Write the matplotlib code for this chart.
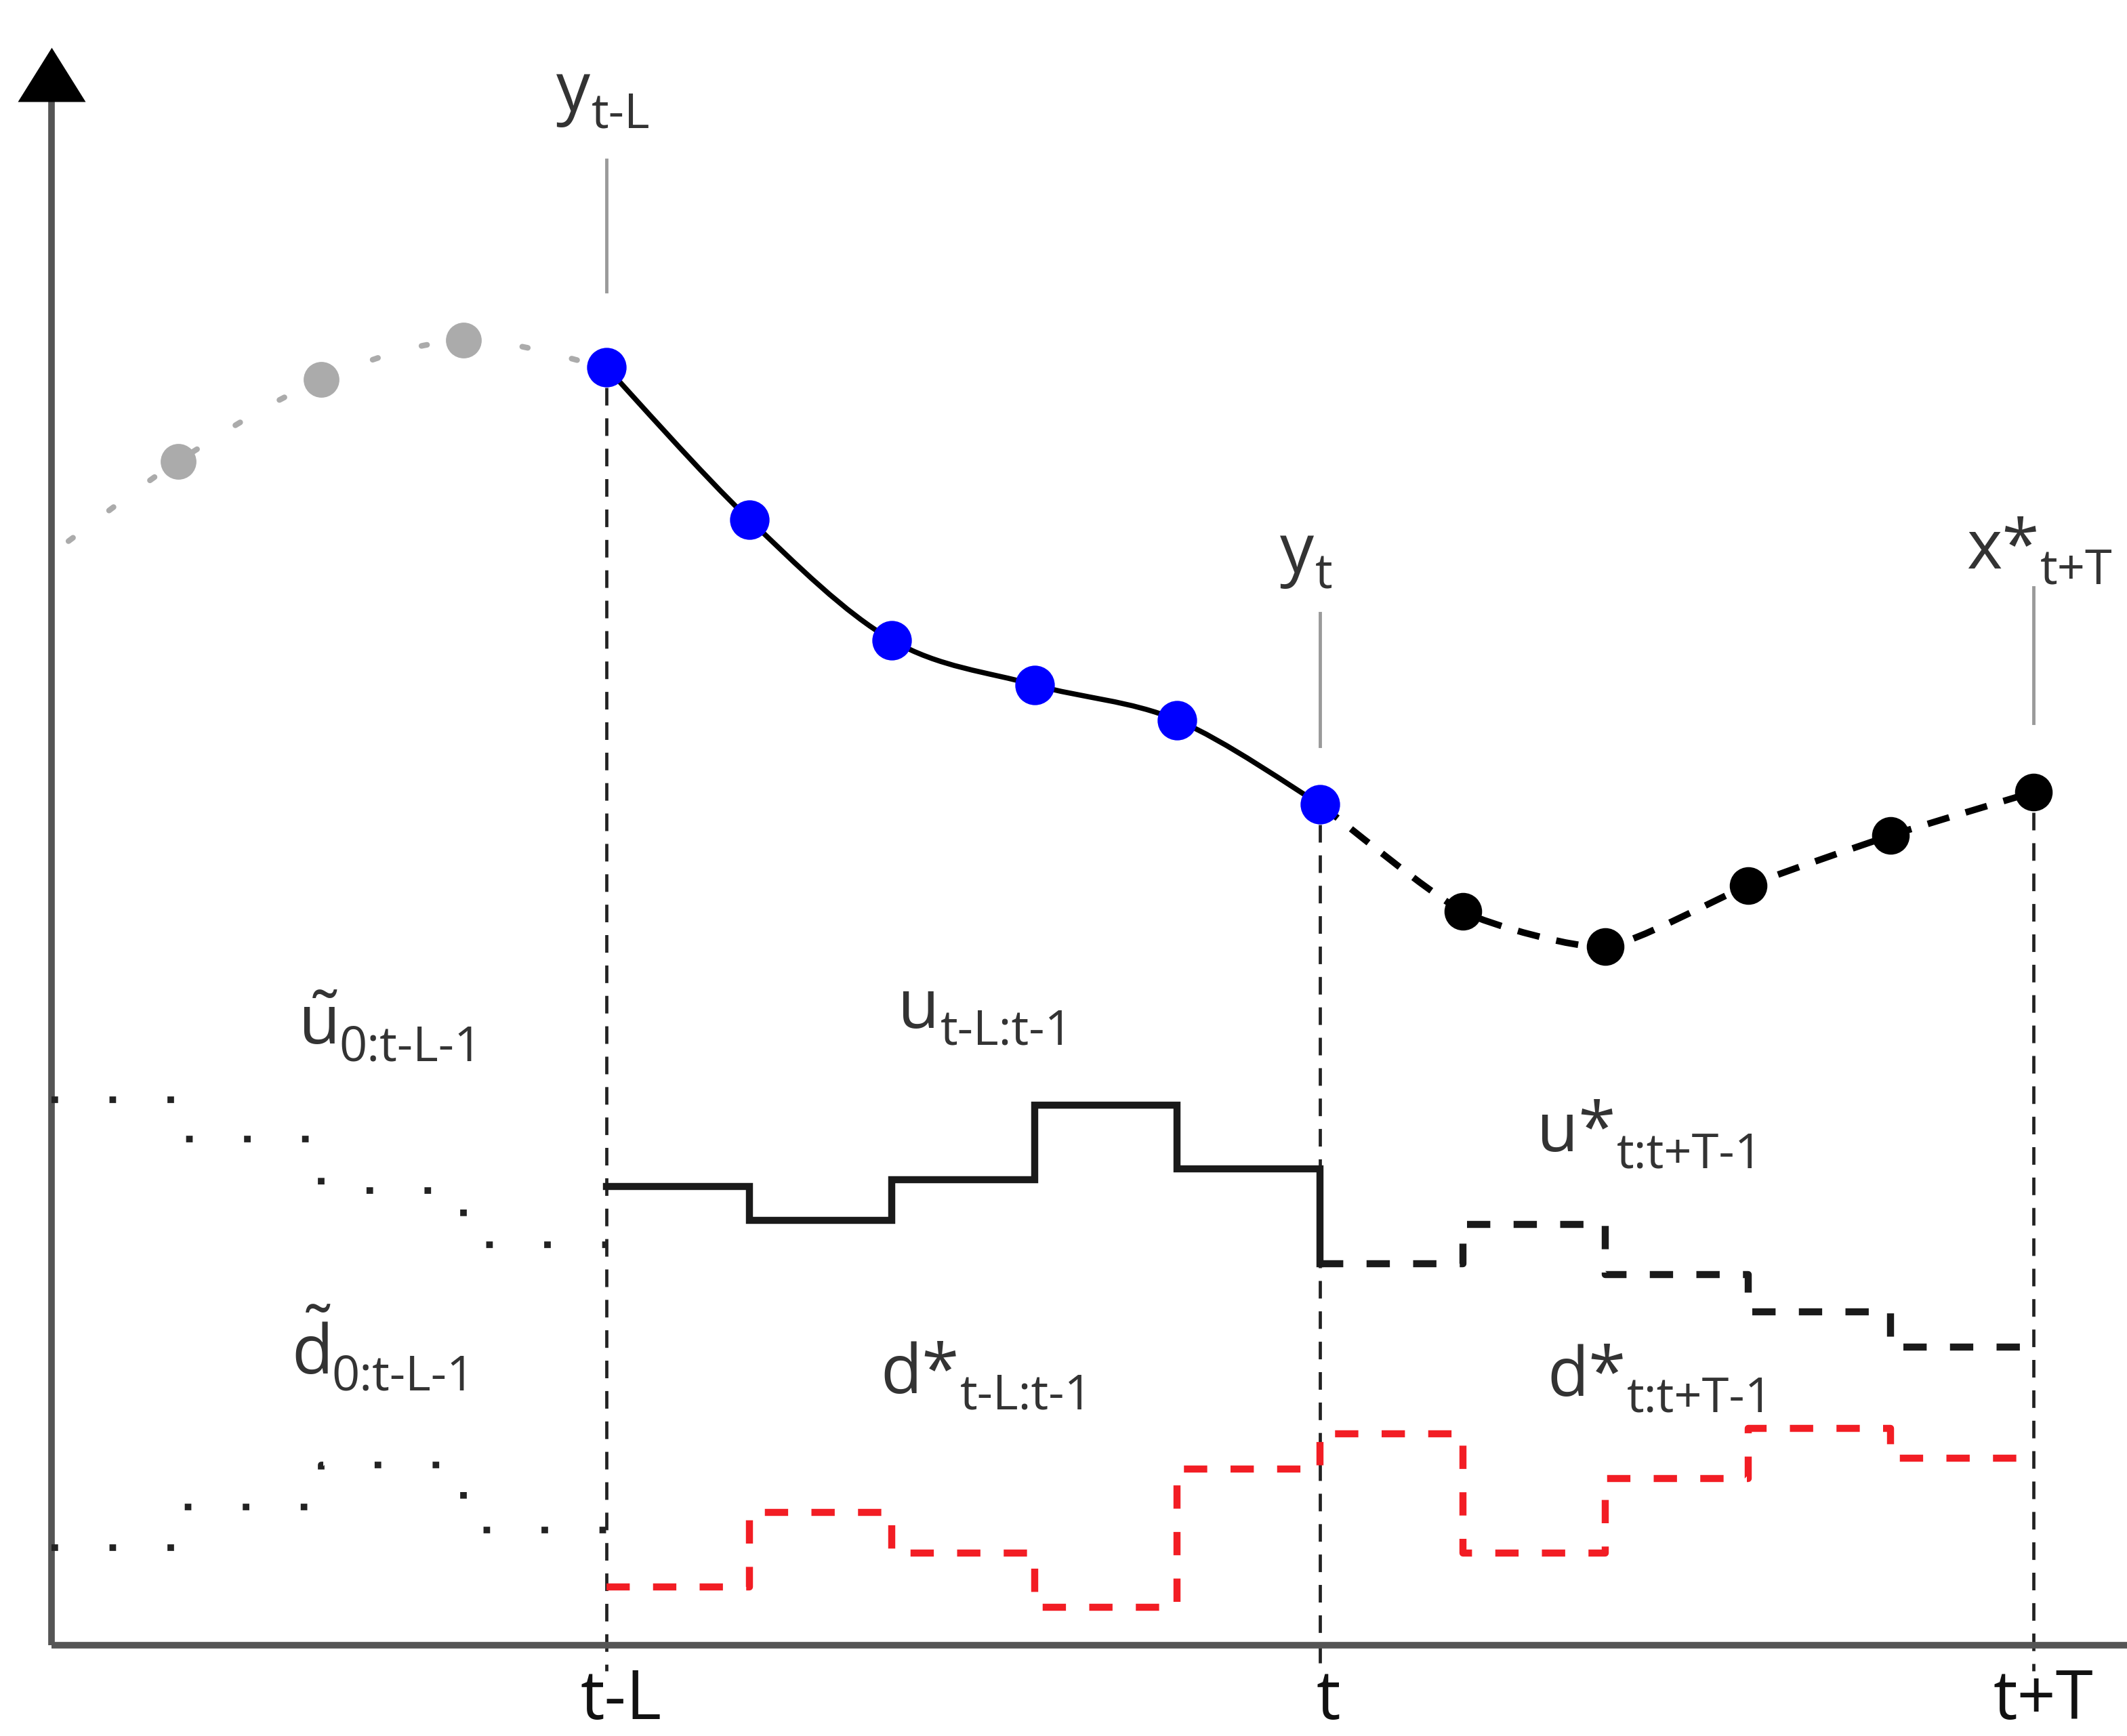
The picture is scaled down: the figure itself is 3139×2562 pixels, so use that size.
import numpy as np
import matplotlib
matplotlib.use("Agg")
import matplotlib.pyplot as plt
from matplotlib.path import Path
from matplotlib.patches import PathPatch

plt.rcParams['font.family'] = ['Open Sans', 'DejaVu Sans']
plt.rcParams['mathtext.fontset'] = 'custom'
plt.rcParams['mathtext.rm'] = 'Open Sans'
plt.rcParams['mathtext.it'] = 'Open Sans'
plt.rcParams['mathtext.bf'] = 'Open Sans:bold'

# ---------------- data (time index k: t-L = 0, t = 5, t+T = 10) ----------------
hist_curve_k = [-3.77, -3, -2, -1, 0]
hist_curve_y = [8.14, 8.73, 9.33, 9.62, 9.42]
hist_pts_k = [-3, -2, -1]
hist_pts_y = [8.73, 9.33, 9.62]

meas_k = [0, 1, 2, 3, 4, 5]
meas_y = [9.42, 8.30, 7.41, 7.08, 6.82, 6.20]

pred_k = [6, 7, 8, 9, 10]
pred_y = [5.41, 5.15, 5.60, 5.97, 6.29]

u_hist_edges = [-3.89, -3, -2, -1, 0]
u_hist = [4.02, 3.73, 3.35, 2.95]
d_hist_edges = [-3.89, -3, -2, -1, 0]
d_hist = [0.72, 1.02, 1.33, 0.85]

u_past = [3.38, 3.13, 3.43, 3.98, 3.51]        # k 0..5, solid
u_future = [2.81, 3.10, 2.73, 2.46, 2.20]      # k 5..10, dashed
d_all = [0.43, 0.98, 0.68, 0.28, 1.30, 1.56, 0.68, 1.23, 1.60, 1.38]  # k 0..10

k_marks = [0, 5, 10]
k_labels = ['t-L', 't', 't+T']

# ---------------- figure ----------------
W, H, DPI = 3139, 2562, 100
fig = plt.figure(figsize=(W / DPI, H / DPI), dpi=DPI)
ax = fig.add_axes([0, 0, 1, 1])
ax.set_xlim(-4.25, 10.655)
ax.set_ylim(-0.67, 12.13)
ax.axis('off')

TXT = '#333333'
AXC = '#555555'


def smooth_patch(xs, ys, tension=1 / 6, **kw):
    pts = np.column_stack([xs, ys]).astype(float)
    verts = [pts[0]]
    codes = [Path.MOVETO]
    n = len(pts)
    for i in range(n - 1):
        p0 = pts[i - 1] if i > 0 else pts[i]
        p1 = pts[i]
        p2 = pts[i + 1]
        p3 = pts[i + 2] if i + 2 < n else pts[i + 1]
        c1 = p1 + (p2 - p0) * tension
        c2 = p2 - (p3 - p1) * tension
        verts += [c1, c2, p2]
        codes += [Path.CURVE4] * 3
    patch = PathPatch(Path(verts, codes), fill=False, **kw)
    ax.add_patch(patch)
    return patch


# axes
y_axis_k = u_hist_edges[0]
ax.plot([y_axis_k, y_axis_k], [0, 11.45], color=AXC, lw=7, solid_capstyle='butt', zorder=2)
ax.plot([y_axis_k, 10.655], [0, 0], color=AXC, lw=7, solid_capstyle='butt', zorder=2)
ax.plot([y_axis_k], [11.58], marker=[(0, 0.8), (-1, -0.8), (1, -0.8)],
        markersize=72, color='black', markeredgewidth=0, zorder=3)

# vertical dashed guides
guide_top = [meas_y[0], meas_y[-1], pred_y[-1]]
for k, top in zip(k_marks, guide_top):
    ax.plot([k, k], [top - 0.15, -0.19], color='#222222', lw=3.4,
            dashes=(5.5, 4.0), zorder=1)

# grey leader lines to labels
leaders = [(0, 9.98, 10.95), (5, 6.63, 7.61), (10, 6.80, 7.80)]
for k, y0, y1 in leaders:
    ax.plot([k, k], [y0, y1], color='#9a9a9a', lw=3.5, zorder=1)

# history trajectory (grey dotted)
smooth_patch(hist_curve_k, hist_curve_y, edgecolor='#ababab', lw=6,
             linestyle=(0, (1, 8)), capstyle='round', zorder=3)
ax.plot(hist_pts_k, hist_pts_y, 'o', color='#ababab', markersize=38,
        markeredgewidth=0, zorder=4)

# measured trajectory (solid)
smooth_patch(meas_k, meas_y, edgecolor='black', lw=5.5, zorder=3)
ax.plot(meas_k, meas_y, 'o', color='#0000ff', markersize=42,
        markeredgewidth=0, zorder=5)

# predicted trajectory (dashed)
smooth_patch([meas_k[-1]] + pred_k, [meas_y[-1]] + pred_y, tension=0.1,
             edgecolor='black', lw=7, linestyle=(0, (3.4, 2.6)), zorder=3)
ax.plot(pred_k, pred_y, 'o', color='black', markersize=40,
        markeredgewidth=0, zorder=5)

# historical inputs / disturbances (dotted steps)
ax.plot(u_hist_edges, u_hist + [u_hist[-1]], drawstyle='steps-post', color='#222222',
        lw=7, linestyle=(0, (1, 7.8)), zorder=3)
ax.plot(d_hist_edges, d_hist + [d_hist[-1]], drawstyle='steps-post', color='#222222',
        lw=7, linestyle=(0, (1, 7.8)), zorder=3)

# past inputs (solid steps)
ax.plot(list(range(0, 6)), u_past + [u_future[0]], drawstyle='steps-post',
        color='#1a1a1a', lw=7.5, solid_joinstyle='miter', zorder=3)
# future inputs (dashed steps)
ax.plot(list(range(5, 11)), u_future + [u_future[-1]], drawstyle='steps-post',
        color='#1a1a1a', lw=7.5, linestyle=(0, (3.3, 3.3)), zorder=3)
# disturbances (red dashed steps)
ax.plot(list(range(0, 11)), d_all + [d_all[-1]], drawstyle='steps-post',
        color='#f21d24', lw=7.5, linestyle=(0, (3.3, 3.3)), zorder=3)


# labels
MAIN = 72
SUB = 52


def label(x, y, main, sub, ha='left'):
    t = ax.text(x, y, main, fontsize=MAIN, color=TXT, ha=ha, va='baseline', zorder=6)
    ax.annotate(sub, xy=(1, 0), xycoords=t, xytext=(1, 0), textcoords='offset points',
                fontsize=SUB, color=TXT, ha='left', va='baseline', zorder=6)
    return t


label(-0.35, 11.31, 'y', 't-L')
label(4.72, 7.91, 'y', 't')
label(9.53, 7.94, 'x*', 't+T')
label(-2.16, 4.43, r'$\tilde{u}$', '0:t-L-1')
label(-2.21, 2.00, r'$\tilde{d}$', '0:t-L-1')
label(2.04, 4.55, 'u', 't-L:t-1')
label(6.52, 3.64, 'u*', 't:t+T-1')
label(1.92, 1.86, 'd*', 't-L:t-1')
label(6.59, 1.84, 'd*', 't:t+T-1')

tick_x = [0.1, 5.06, 10.07]
for kx, lab in zip(tick_x, k_labels):
    ax.text(kx, -0.665, lab, fontsize=MAIN, color='#111111', ha='center', va='bottom')

fig.savefig('out.png', dpi=DPI, facecolor='white')
